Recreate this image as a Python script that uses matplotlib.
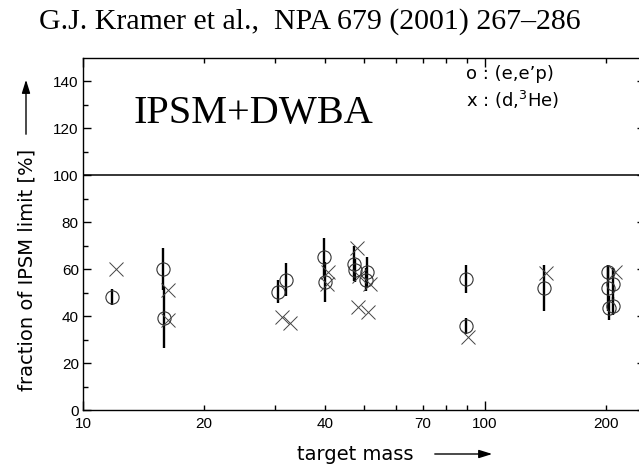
import numpy as np
import matplotlib
matplotlib.use("Agg")
import matplotlib.pyplot as plt
from matplotlib.ticker import FixedLocator, FuncFormatter

plt.rcParams['font.family'] = 'DejaVu Sans'

# (e,e'p) points: target mass, fraction [%], error
eep_mass = [11.8, 15.8, 15.9, 30.6, 31.9, 39.7, 39.9, 47.3, 47.6, 50.8, 50.7,
            89.7, 89.7, 140.5, 202, 202, 208, 204, 208]
eep_frac = [48.2, 60.0, 39.3, 50.4, 55.6, 65.2, 54.4, 62.3, 59.5, 58.6, 55.6,
            56.0, 35.7, 52.0, 58.6, 52.0, 53.9, 43.5, 44.3]
eep_err = [3.5, 9.0, 13.0, 5.0, 7.0, 8.0, 8.5, 7.5, 5.0, 6.5, 5.0,
           6.0, 3.5, 10.0, 3.0, 10.0, 6.5, 5.0, 4.0]

# (d,3He) points
dhe_mass = [12.1, 16.3, 16.3, 31.3, 32.7, 40.7, 40.4, 48.0, 48.5, 48.4,
            51.7, 51.3, 90.9, 141.8, 211]
dhe_frac = [59.9, 51.0, 38.3, 39.7, 36.9, 58.9, 53.6, 69.2, 57.0, 44.0,
            53.9, 41.6, 30.9, 58.2, 58.9]

xlabels_at = [10, 20, 40, 70, 100, 200]

fig = plt.figure(figsize=(6.39, 4.68), dpi=100)
ax = fig.add_axes([83/639, 58/468, 562/639, 352/468])

ax.errorbar(eep_mass, eep_frac, yerr=eep_err, fmt='none', ecolor='black',
            elinewidth=1.7, capsize=0, zorder=2)
ax.plot(eep_mass, eep_frac, 'o', ms=9.5, mfc='none', mec='#333333', mew=0.8, zorder=3)
ax.plot(dhe_mass, dhe_frac, 'x', ms=10, color='#444444', mew=0.7, zorder=3)

ax.axhline(100, color='black', lw=1.1)

ax.set_xscale('log')
ax.set_xlim(10, 10 * 10**(562/402))
ax.set_ylim(0, 150)

ax.xaxis.set_major_locator(FixedLocator([10, 100]))
ax.xaxis.set_minor_locator(FixedLocator([20, 30, 40, 50, 60, 70, 80, 90, 200]))
lab = FuncFormatter(lambda v, p: "%d" % round(v) if round(v) in xlabels_at else "")
ax.xaxis.set_major_formatter(lab)
ax.xaxis.set_minor_formatter(lab)
ax.set_yticks(np.arange(0, 141, 20))
ax.set_yticks(np.arange(10, 150, 10), minor=True)

ax.tick_params(which='both', direction='in', top=True, right=True, labelsize=11,
               width=1.0, color='black', labelfontfamily='Liberation Sans')
ax.tick_params(axis='x', which='major', length=6.5, pad=5)
ax.tick_params(axis='x', which='minor', length=3.5, pad=5)
ax.tick_params(axis='y', which='major', length=6, pad=3)
ax.tick_params(axis='y', which='minor', length=3.5)
for s in ax.spines.values():
    s.set_linewidth(1.0)

ax.text(0.3032, 0.8153, "IPSM+DWBA", transform=ax.transAxes, ha='center',
        va='baseline', fontsize=29, family='Liberation Serif')
ax.text(0.681, 0.9545, "o : (e,e\u2019p)", transform=ax.transAxes, ha='left',
        va='center', fontsize=13)
ax.text(0.681, 0.881, r"x : (d,$^{3}$He)", transform=ax.transAxes, ha='left',
        va='center', fontsize=13)

fig.text(310/639, (468-29)/468, "G.J. Kramer et al.,  NPA 679 (2001) 267\u2013286",
         ha='center', va='baseline', fontsize=21.5, family='Liberation Serif')

fig.text(27/639, (468-270)/468, "fraction of IPSM limit [%]", rotation=90,
         ha='center', va='center', fontsize=14)
fig.text(355/639, (468-460)/468, "target mass", ha='center', va='baseline', fontsize=14)

arrow = dict(arrowstyle='-|>,head_length=0.8,head_width=0.25', color='black', lw=1.0)
ax.annotate("", xy=(26/639, (468-77)/468), xytext=(26/639, (468-137)/468),
            xycoords='figure fraction', textcoords='figure fraction', arrowprops=arrow)
ax.annotate("", xy=(495/639, (468-454)/468), xytext=(432/639, (468-454)/468),
            xycoords='figure fraction', textcoords='figure fraction', arrowprops=arrow)

fig.savefig("out.png", dpi=100)
